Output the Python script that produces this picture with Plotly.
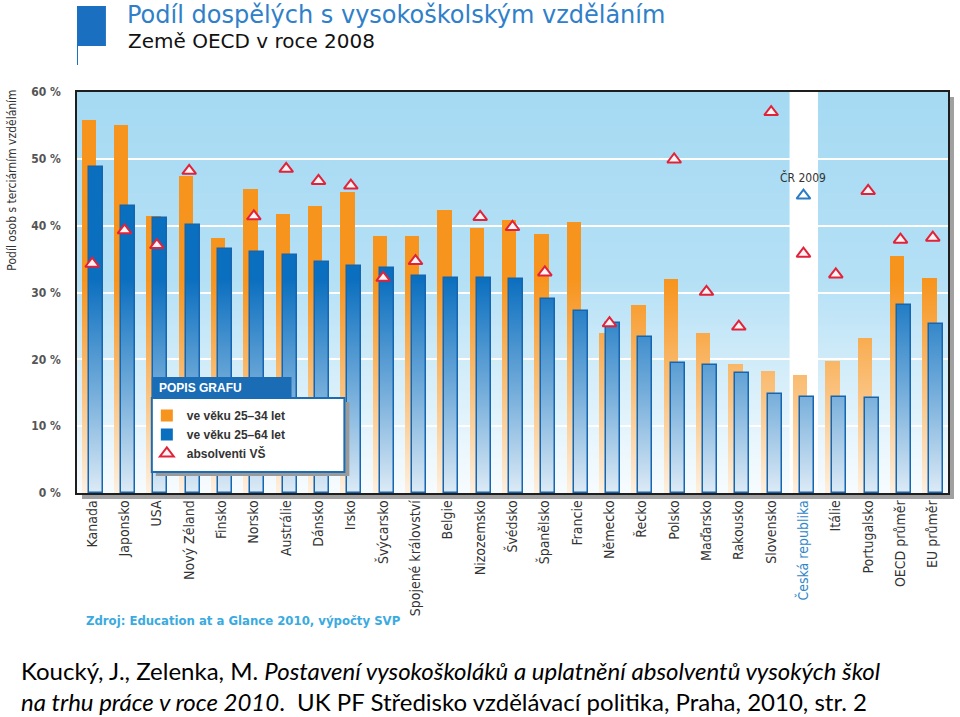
import plotly.graph_objects as go

# ---------------- data ----------------
countries = ["Kanada", "Japonsko", "USA", "Nový Zéland", "Finsko", "Norsko", "Austrálie",
             "Dánsko", "Irsko", "Švýcarsko", "Spojené království", "Belgie", "Nizozemsko",
             "Švédsko", "Španělsko", "Francie", "Německo", "Řecko", "Polsko", "Maďarsko",
             "Rakousko", "Slovensko", "Česká republika", "Itálie", "Portugalsko",
             "OECD průměr", "EU průměr"]
age_25_34 = [55.8, 55.0, 41.5, 47.5, 38.2, 45.5, 41.7, 43.0, 45.1, 38.4, 38.4, 42.3, 39.7,
             40.8, 38.7, 40.6, 23.9, 28.2, 32.0, 23.9, 19.3, 18.3, 17.6, 19.8, 23.2, 35.4, 32.1]
age_25_64 = [48.8, 42.9, 41.1, 40.1, 36.5, 36.0, 35.6, 34.5, 33.9, 33.7, 32.5, 32.1, 32.1,
             32.0, 29.1, 27.3, 25.4, 23.4, 19.4, 19.1, 18.0, 14.8, 14.4, 14.4, 14.2, 28.2, 25.3]
graduates = [34.3, 39.3, 37.1, 48.2, None, 41.4, 48.5, 46.7, 46.0, 32.2, 34.7, None, 41.3,
             39.8, 33.0, None, 25.4, None, 49.9, 30.1, 24.9, 57.0, 35.8, 32.7, 45.2, 37.9, 38.2]
highlight = "Česká republika"
cr_2009_label = "ČR 2009"
cr_2009_value = 44.5
y_ticks = [0, 10, 20, 30, 40, 50, 60]
y_ticktext = ["0 %", "10 %", "20 %", "30 %", "40 %", "50 %", "60 %"]
series_names = ["ve věku 25–34 let", "ve věku 25–64 let", "absolventi VŠ"]

# ---------------- geometry helpers ----------------
W, H = 960, 717
L, R, T, B = 77, 10, 92, 224
PW, PH = W - L - R, H - T - B


def px(x):
    return (x - L) / PW


def py(y):
    return (H - B - y) / PH


NARROW = "Liberation Sans Narrow, Arial Narrow, DejaVu Sans Condensed, Roboto Condensed, sans-serif"
SANS = "Liberation Sans, Arial, sans-serif"

idx = list(range(len(countries)))
X0, X1 = -0.47, len(countries) - 0.53
Y0, Y1 = y_ticks[0], y_ticks[-1]
hi = countries.index(highlight)

ticktext = [f"<span style='color:#2E86C8'>{c}</span>" if c == highlight else c for c in countries]

fig = go.Figure()

# filled bars (bottom subplot)
fig.add_trace(go.Bar(x=idx, y=age_25_34, name=series_names[0], width=0.44, offset=-0.325,
                     marker=dict(color="#F7941D", line=dict(width=0))))
fig.add_trace(go.Bar(x=idx, y=age_25_64, name=series_names[1], width=0.43, offset=-0.107,
                     marker=dict(color="#0B6FBF", line=dict(width=0))))
# white fade over lower part of plot (decorative)
FADE_TOP = 32
fig.add_trace(go.Scatter(x=[X0, X1, X1, X0, X0], y=[Y0, Y0, FADE_TOP, FADE_TOP, Y0],
                         fill="toself", mode="none", showlegend=False, hoverinfo="skip",
                         fillgradient=dict(type="vertical",
                                           colorscale=[[0, "rgba(255,255,255,0.86)"],
                                                       [0.45, "rgba(255,255,255,0.45)"],
                                                       [1, "rgba(255,255,255,0)"]],
                                           start=Y0, stop=FADE_TOP)))
# blue outlines + triangles on overlay subplot
fig.add_trace(go.Bar(x=idx, y=age_25_64, width=0.43, offset=-0.107, showlegend=False,
                     marker=dict(color="rgba(0,0,0,0)", line=dict(color="#1565B0", width=1.5)),
                     xaxis="x2", yaxis="y2", hoverinfo="skip"))
fig.add_trace(go.Scatter(x=idx, y=graduates, mode="markers", name=series_names[2],
                         marker=dict(symbol="triangle-up", size=12, color="#FFF4F4",
                                     line=dict(color="#E0223A", width=2)),
                         xaxis="x2", yaxis="y2"))
fig.add_trace(go.Scatter(x=[hi], y=[cr_2009_value], mode="markers", showlegend=False,
                         marker=dict(symbol="triangle-up", size=12, color="#FFFFFF",
                                     line=dict(color="#2B7BC4", width=2)),
                         xaxis="x2", yaxis="y2"))

shapes = []
# background vertical tint bands (decorative)
NB = 24
c_top = (166, 218, 243)
c_bot = (196, 231, 248)
for k in range(NB):
    f = k / (NB - 1)
    col = tuple(round(c_bot[j] + (c_top[j] - c_bot[j]) * f) for j in range(3))
    shapes.append(dict(type="rect", xref="paper", yref="paper", x0=0, x1=1,
                       y0=k / NB, y1=(k + 1) / NB + 0.002, layer="below",
                       fillcolor=f"rgb{col}", line=dict(width=0)))
# white band behind Czech Republic
shapes.append(dict(type="rect", xref="x", yref="paper", x0=hi - 0.43, x1=hi + 0.45,
                   y0=0, y1=1, layer="below", fillcolor="white", line=dict(width=0)))
# plot shadow
shapes.append(dict(type="rect", xref="paper", yref="paper", x0=1.001, x1=px(956),
                   y0=py(498), y1=py(97), layer="below", fillcolor="#A0A0A0", line=dict(width=0)))
shapes.append(dict(type="rect", xref="paper", yref="paper", x0=px(82), x1=px(956),
                   y0=py(499), y1=-0.002, layer="below", fillcolor="#A0A0A0", line=dict(width=0)))
# title block
shapes.append(dict(type="rect", xref="paper", yref="paper", x0=px(77), x1=px(106),
                   y0=py(46), y1=py(6), fillcolor="#1A6FC0", line=dict(width=0)))
shapes.append(dict(type="line", xref="paper", yref="paper", x0=px(77.5), x1=px(77.5),
                   y0=py(65), y1=py(46), line=dict(color="#1A6FC0", width=1)))
# legend box
shapes.append(dict(type="rect", xref="paper", yref="paper", x0=px(156), x1=px(350),
                   y0=py(476), y1=py(402), layer="above", fillcolor="#9A9A9A", line=dict(width=0)))
shapes.append(dict(type="rect", xref="paper", yref="paper", x0=px(152), x1=px(345),
                   y0=py(472), y1=py(398), layer="above", fillcolor="white",
                   line=dict(color="#1A6CB5", width=2)))
shapes.append(dict(type="rect", xref="paper", yref="paper", x0=px(152), x1=px(292),
                   y0=py(398), y1=py(377), layer="above", fillcolor="#1A6CB5", line=dict(width=0)))

annotations = [
    dict(text="Podíl dospělých s vysokoškolským vzděláním", xref="paper", yref="paper",
         x=px(125), y=py(15), xanchor="left", yanchor="middle", showarrow=False,
         font=dict(family="DejaVu Sans, sans-serif", size=24, color="#2F80C9")),
    dict(text="Země OECD v roce 2008", xref="paper", yref="paper",
         x=px(126), y=py(41), xanchor="left", yanchor="middle", showarrow=False,
         font=dict(family="DejaVu Sans, sans-serif", size=20, color="#111111")),
    dict(text="Podíl osob s terciárním vzděláním", xref="paper", yref="paper",
         x=px(11), y=py(88), xanchor="center", yanchor="top", textangle=-90, showarrow=False,
         font=dict(family=NARROW, size=12, color="#333333")),
    dict(text="POPIS GRAFU", xref="paper", yref="paper", x=px(157), y=py(388),
         xanchor="left", yanchor="middle", showarrow=False,
         font=dict(family=SANS, size=12, color="white", weight="bold")),
    dict(text=cr_2009_label, xref="x2", yref="y2", x=hi, y=cr_2009_value + 2.7,
         xanchor="center", yanchor="middle", showarrow=False,
         font=dict(family=NARROW, size=12, color="#333333")),
    dict(text="Zdroj: Education at a Glance 2010, výpočty SVP", xref="paper", yref="paper",
         x=px(84), y=py(620), xanchor="left", yanchor="middle", showarrow=False,
         font=dict(family=NARROW, size=13, color="#3AAAE0", weight="bold")),
    dict(text="Koucký, J., Zelenka, M. <i>Postavení vysokoškoláků a uplatnění absolventů vysokých škol</i>",
         xref="paper", yref="paper", x=px(19), y=py(670), xanchor="left", yanchor="middle",
         showarrow=False, font=dict(family="Lato, sans-serif", size=24, color="#000000")),
    dict(text="<i>na trhu práce v roce 2010</i>.  UK PF Středisko vzdělávací politika, Praha, 2010, str. 2",
         xref="paper", yref="paper", x=px(19), y=py(701), xanchor="left", yanchor="middle",
         showarrow=False, font=dict(family="Lato, sans-serif", size=24, color="#000000")),
]

fig.update_layout(
    width=W, height=H,
    margin=dict(l=L, r=R, t=T, b=B, pad=0),
    paper_bgcolor="white", plot_bgcolor="#B8E2F6",
    barmode="overlay", bargap=0,
    showlegend=True,
    legend=dict(x=px(147), y=py(401), xanchor="left", yanchor="top",
                bgcolor="rgba(0,0,0,0)", borderwidth=0, tracegroupgap=0,
                font=dict(family=SANS, size=12, color="#333333", weight="bold")),
    xaxis=dict(range=[X0, X1], tickmode="array", tickvals=idx, ticktext=ticktext,
               tickangle=-90, showgrid=False, zeroline=False, ticks="",
               showline=True, mirror=True, linecolor="#1E1E1E", linewidth=1.5,
               tickfont=dict(family=NARROW, size=14, color="#333333")),
    yaxis=dict(range=[Y0, Y1], tickmode="array", tickvals=y_ticks, ticktext=y_ticktext,
               showgrid=True, gridcolor="white", gridwidth=1.5, zeroline=False, ticks="",
               showline=True, mirror=True, linecolor="#1E1E1E", linewidth=1.5,
               ticklabelstandoff=12,
               tickfont=dict(family=NARROW, size=12, color="#555555", weight="bold")),
    xaxis2=dict(range=[X0, X1], overlaying="x", visible=False),
    yaxis2=dict(range=[Y0, Y1], overlaying="y", visible=False),
    shapes=shapes,
    annotations=annotations,
)

fig.write_html("out.html")
